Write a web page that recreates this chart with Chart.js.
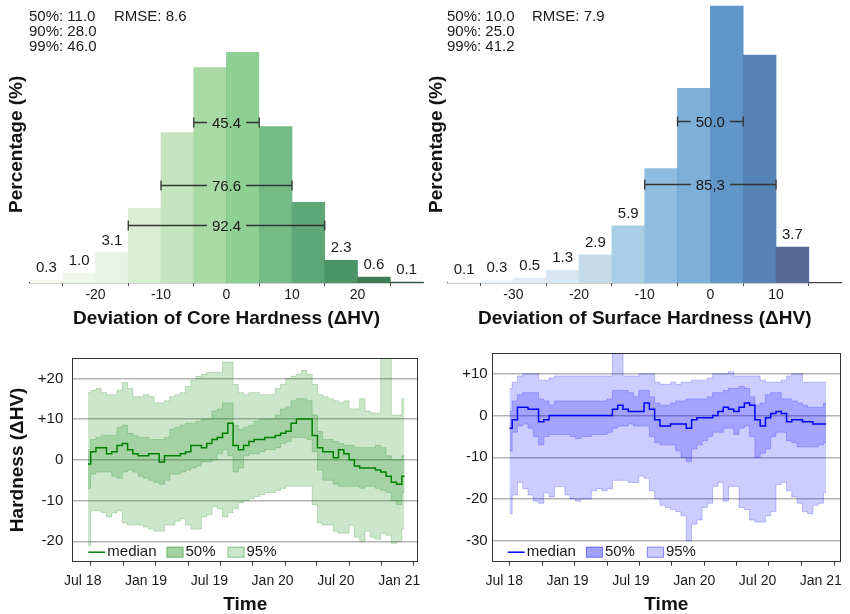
<!DOCTYPE html>
<html><head><meta charset="utf-8">
<script src="https://cdn.jsdelivr.net/npm/chart.js@4.4.1/dist/chart.umd.min.js"></script>
<style>
html,body{margin:0;padding:0;background:#fff;}
body{width:850px;height:614px;position:relative;overflow:hidden;font-family:'Liberation Sans',Arial,sans-serif;}
canvas{position:absolute;display:block;}
.stats{position:absolute;font-size:15px;line-height:15px;color:#1a1a1a;white-space:pre;}
</style></head><body>
<canvas id="c1" width="425" height="340" style="left:0;top:0"></canvas>
<canvas id="c2" width="425" height="340" style="left:425px;top:0"></canvas>
<canvas id="c3" width="425" height="274" style="left:0;top:340px"></canvas>
<canvas id="c4" width="425" height="274" style="left:425px;top:340px"></canvas>
<div class="stats" id="s1" style="left:29px;top:8px"></div>
<div class="stats" id="r1" style="left:114px;top:8px"></div>
<div class="stats" id="s2" style="left:447px;top:8px"></div>
<div class="stats" id="r2" style="left:532px;top:8px"></div>
<script>
// ---------- histogram data ----------
const coreBinCenters = [-27.5,-22.5,-17.5,-12.5,-7.5,-2.5,2.5,7.5,12.5,17.5,22.5,27.5];
const corePct = [0.3,1.0,3.1,7.6,15.3,21.9,23.5,15.9,8.2,2.3,0.6,0.1];
const coreBarColors = ['#f4faf2','#eff7ec','#e8f4e4','#d9eed3','#c4e4bd','#a9daa5','#8ecf93','#74bb86','#5ea776','#4b9468','#3f7b55','#365c46'];
const coreTicks = [-30,-20,-10,0,10,20,30];
const coreSpanLo = [-5,-10,-15];
const coreSpanHi = [5,10,15];
const coreSpanY = [16.4,10.0,5.9];
const coreSpanText = ['45.4','76.6','92.4'];
const coreStats = ['50%: 11.0','90%: 28.0','99%: 46.0'];
const coreRmse = 'RMSE: 8.6';

const surfBinCenters = [-37.5,-32.5,-27.5,-22.5,-17.5,-12.5,-7.5,-2.5,2.5,7.5,12.5];
const surfPct = [0.1,0.3,0.5,1.3,2.9,5.9,11.8,20.1,29.9,23.5,3.7];
const surfBarColors = ['#f4f8fc','#edf3fa','#e3ecf6','#d9e7f2','#c6dbea','#a9cfe6','#8ebddf','#7eb0d7','#6097c8','#5583b4','#566b95'];
const surfTicks = [-40,-30,-20,-10,0,10,20];
const surfSpanLo = [-5,-10];
const surfSpanHi = [5,10];
const surfSpanY = [16.7,10.2];
const surfSpanText = ['50.0','85,3'];
const surfStats = ['50%: 10.0','90%: 25.0','99%: 41.2'];
const surfRmse = 'RMSE: 7.9';

// ---------- time series data (months after Jul 2018) ----------
const months = [0.5,1,1.5,2,2.5,3,3.5,4,4.5,5,5.5,6,6.5,7,7.5,8,8.5,9,9.5,10,10.5,11,11.5,12,12.5,13,13.5,14,14.5,15,15.5,16,16.5,17,17.5,18,18.5,19,19.5,20,20.5,21,21.5,22,22.5,23,23.5,24,24.5,25,25.5,26,26.5,27,27.5,28,28.5,29,29.5,30,30.5];
const timeLabelMonths = [0,6,12,18,24,30];
const timeLabels = ['Jul 18','Jan 19','Jul 19','Jan 20','Jul 20','Jan 21'];
const legendLabels = ['median','50%','95%'];

const coreU95 = [16.5,17,17.5,16.5,16,16,17,19,17.5,15.5,15.5,16,15.5,14,14,14.5,15.5,16,16.5,18,19.5,20.5,21,21.5,21.5,21.5,24,24,18.5,16.5,16,16.5,16.5,16,16,16,17.5,18.5,20,20.5,21,22,21,18.5,16,15.5,15,14.5,14,14.5,12.5,12.5,15,12,11.5,11.5,27,27,11,11,15];
const coreL95 = [-21,-12.5,-12.5,-13,-14,-13,-12.5,-15.5,-16,-16,-16,-16.5,-17,-17.5,-17.5,-16,-16,-15,-14.5,-16,-17,-17,-14,-13.5,-11.5,-12,-14,-13,-12,-10.5,-10,-9.5,-9,-8.5,-8,-8,-7.5,-7,-6.5,-6.5,-6.5,-6.5,-6.5,-11,-15.5,-16,-16,-17.5,-18,-18,-16,-19,-20,-17.5,-19,-19.5,-18,-18.5,-20.5,-20,-17];
const coreU50 = [2.5,5,5.5,6,6,6,8,8.5,6.5,6,5.5,5.5,5,5,5,5.5,7.5,8,8.5,9,9,9.5,10,10,12,12.5,14,14,8.5,7.5,8,8.5,9.5,10,10,10,11,12.5,13,14.5,15,15,14.5,11,7,5,5,4.5,4,3.5,3.5,3,3,3,3,3.5,3,1,0,0,1];
const coreL50 = [-7,-3.5,-3,-3,-3,-4,-4.5,-3,-2.5,-3,-4,-4.5,-5,-5.5,-6,-5,-3.5,-3.5,-3,-2.5,-2,-1.5,-0.5,-0.5,0,1.5,2.5,1,-3,-2,1,1.5,1.5,2,2.5,2.5,3,4,4.5,5.5,5.5,5.5,5,2,-2.5,-5,-5,-6,-6.5,-6.5,-6.5,-6.5,-7,-6.5,-6.5,-7,-7.5,-8,-10,-11,-8];
const coreMed = [-1,2,3,3,1.5,2,3.5,4,2.5,1.5,1,1,1.5,1.5,-0.5,1,1,1,1.5,2,3.5,3.5,3,4,5,5.5,6.5,9,3.5,2.5,3.5,4.5,5,5,5.5,5.5,6,6.5,7,9,10,10,10,6,3,2,2,0.5,2.5,1.5,0,-1.5,-2,-2,-2,-2.5,-3,-4,-5.5,-6,-4];

const surfU95 = [6.5,8,9.5,10,10,10,8.5,8.5,9,9.5,9.5,9.5,9.5,9.5,9.5,9.5,9.5,9.5,9.5,9.5,16,16,9.5,9.5,9.5,10,10,10,8,7.5,7.5,8,7.5,8,8,8.5,8.5,8.5,9,10,10,10,10.5,9.5,9.5,9.5,9.5,9.5,8.5,8,8,8,8.5,9.5,10,10,8,8,8,8,8];
const surfL95 = [-23.5,-19,-16,-17.5,-19,-20.5,-21,-18.5,-19.5,-17,-17,-19,-20,-20.5,-20,-20,-18,-17.5,-18,-17.5,-15.5,-15.5,-15.5,-16,-16,-14.5,-15,-18,-20,-21.5,-22,-22.5,-23,-24,-30,-26,-25,-22,-21,-17,-16,-20.5,-17,-17,-22,-22.5,-25,-25.5,-25.5,-24,-23,-16.5,-16,-18,-19.5,-21,-23,-23.5,-21.5,-21,-18.5];
const surfU50 = [1,3.5,5,5.5,5.5,5.5,4,3.5,2.5,3.5,3.5,3.5,3.5,3.5,3.5,3.5,3.5,3.5,3.5,4,6,6,6,5.5,4.5,6,6,4.5,3,2.5,2.5,3,3.5,3.5,4,4,4,4,4.5,5.5,5.5,6,6.5,6.5,7,6.5,4.5,2.5,3,5,5.5,5.5,4,4,3.5,3,2.5,2,2,2,3];
const surfL50 = [-8.5,-4,-2.5,-2,-3,-5,-7,-5,-4.5,-4.5,-4.5,-4.5,-5,-5.5,-5,-5,-4.5,-4.5,-4.5,-4,-3,-2.5,-2.5,-2,-2.5,-2.5,-2.5,-5,-6.5,-7,-7,-7,-8.5,-10,-11,-8,-7,-6,-5,-4,-4,-3,-3,-4.5,-3,-2.5,-5,-10,-9,-8,-5,-4,-4,-6,-6.5,-7.5,-7.5,-7.5,-7.5,-7,-6.5];
const surfMed = [-3,-1,2,2,1.5,1.5,-1.5,-1,0,0,0,0,0,0,0,0,0,0,0,0,1.5,2.5,1.5,1,1,1,3,1.5,-1,-2.5,-2.5,-2,-2,-2,-3,-1,-0.5,-0.5,-0.5,0,1,2,1.5,1,2,3,2.5,-1,-2.5,-0.5,0.5,1,0.5,-1.5,-1,-1,-1.5,-1.5,-2,-2,-2];

const coreYTicks = [-20,-10,0,10,20];
const surfYTicks = [-30,-20,-10,0,10];
const coreMarkTicks = [0.76,3.85,6.94,10.0,13.08,16.1,19.2,22.2,25.27,28.3,31.4];
const surfMarkTicks = [0.54,3.6,6.7,9.76,12.8,15.87,18.93,22.03,25.0,28.2,31.3];

// ---------- setup ----------
const FONT = "'Liberation Sans', Arial, sans-serif";
Chart.defaults.font.family = FONT;
Chart.defaults.color = '#1a1a1a';
Chart.defaults.animation = false;

document.getElementById('s1').textContent = coreStats.join('\n');
document.getElementById('r1').textContent = coreRmse;
document.getElementById('s2').textContent = surfStats.join('\n');
document.getElementById('r2').textContent = surfRmse;

function makeHistPlugin(d) {
  return {
    id: 'histExtras',
    afterDatasetsDraw(chart) {
      const {ctx, scales: {x, y}} = chart;
      ctx.save();
      ctx.font = '15px ' + FONT;
      ctx.fillStyle = '#1a1a1a';
      ctx.textAlign = 'center';
      ctx.textBaseline = 'alphabetic';
      const lo = Math.min(...d.spanLo), hi = Math.max(...d.spanHi);
      d.centers.forEach((c, i) => {
        if (c > lo && c < hi) return;
        ctx.fillText(d.values[i].toFixed(1), x.getPixelForValue(c), y.getPixelForValue(d.values[i]) - 8);
      });
      ctx.strokeStyle = '#333';
      ctx.lineWidth = 1.3;
      ctx.textBaseline = 'middle';
      d.spanLo.forEach((l, i) => {
        const x1 = x.getPixelForValue(l), x2 = x.getPixelForValue(d.spanHi[i]);
        const py = Math.round(y.getPixelForValue(d.spanY[i])) + 0.5;
        const t = d.spanText[i];
        const w = ctx.measureText(t).width;
        const cx = (x1 + x2) / 2;
        ctx.beginPath();
        ctx.moveTo(x1, py); ctx.lineTo(cx - w / 2 - 5, py);
        ctx.moveTo(cx + w / 2 + 5, py); ctx.lineTo(x2, py);
        ctx.moveTo(x1, py - 5); ctx.lineTo(x1, py + 5);
        ctx.moveTo(x2, py - 5); ctx.lineTo(x2, py + 5);
        ctx.stroke();
        ctx.fillText(t, cx, py + 1);
      });
      ctx.restore();
    }
  };
}

function makeHist(id, d) {
  return new Chart(document.getElementById(id), {
    type: 'bar',
    data: { datasets: [{
      data: d.centers.map((c, i) => ({x: c, y: d.values[i]})),
      backgroundColor: d.colors,
      borderColor: d.edgeColor,
      borderWidth: (ctx) => ctx.dataIndex === d.edgeIndex ? {left: 1, right: 0, top: 0, bottom: 0} : 0,
      borderSkipped: false,
      barPercentage: 1,
      categoryPercentage: 1,
      clip: 0
    }]},
    options: {
      responsive: false,
      animation: false,
      layout: {padding: {top: 5.7, right: d.padRight, left: 0, bottom: 0}},
      plugins: {legend: {display: false}, tooltip: {enabled: false}},
      scales: {
        x: {
          type: 'linear', min: d.xMin, max: d.xMax, offset: false,
          afterBuildTicks: (s) => { s.ticks = d.ticks.map(v => ({value: v})); },
          afterFit: (s) => { s.height = 57; },
          grid: {display: true, drawOnChartArea: false, drawTicks: true, tickLength: 3, color: '#444', lineWidth: 1},
          border: {display: true, color: '#444', width: 1.2},
          ticks: {font: {size: 14}, color: '#1a1a1a', padding: 1, autoSkip: false, maxRotation: 0,
                  callback: (v) => (v === d.xMin || v === d.xMax) ? '' : String(v)},
          title: {display: true, text: d.xTitle, color: '#111',
                  font: {size: 19, weight: 'bold', lineHeight: 1}, padding: {top: 0, bottom: 11.5}}
        },
        y: {
          min: 0, max: d.yMax,
          afterFit: (s) => { s.width = d.yWidth; },
          grid: {display: false}, border: {display: false}, ticks: {display: false},
          title: {display: true, text: 'Percentage (%)', color: '#111',
                  font: {size: 19, weight: 'bold', lineHeight: 1}, padding: {top: d.yTitlePad, bottom: 0}}
        }
      }
    },
    plugins: [makeHistPlugin(d)]
  });
}

const framePlugin = {
  id: 'frame',
  afterDraw(chart) {
    const {ctx, chartArea: a} = chart;
    ctx.save();
    ctx.strokeStyle = '#333';
    ctx.lineWidth = 1;
    ctx.strokeRect(Math.round(a.left) + 0.5, Math.round(a.top) + 0.5, Math.round(a.right - a.left) - 1, Math.round(a.bottom - a.top) - 1);
    ctx.restore();
  }
};

function makeLegendPlugin(d) {
  return {
    id: 'bandLegend',
    afterDraw(chart) {
      const {ctx, chartArea: a} = chart;
      ctx.save();
      ctx.font = '15px ' + FONT;
      ctx.textBaseline = 'middle';
      ctx.textAlign = 'left';
      let x = a.left + 16;
      const cy = a.bottom - 9.5;
      ctx.strokeStyle = d.line; ctx.lineWidth = 1.5;
      ctx.beginPath(); ctx.moveTo(x, cy); ctx.lineTo(x + 17, cy); ctx.stroke();
      x += 19;
      ctx.fillStyle = '#1a1a1a';
      ctx.fillText(legendLabels[0], x, cy);
      x += ctx.measureText(legendLabels[0]).width + 10;
      [[d.leg50, legendLabels[1]], [d.leg95, legendLabels[2]]].forEach(([col, lab]) => {
        ctx.fillStyle = col;
        ctx.fillRect(x, cy - 5.5, 17, 11);
        ctx.strokeStyle = d.legEdge; ctx.lineWidth = 1;
        ctx.strokeRect(x + 0.5, cy - 5, 16, 10);
        ctx.fillStyle = '#1a1a1a';
        x += 19;
        ctx.fillText(lab, x, cy);
        x += ctx.measureText(lab).width + 12;
      });
      ctx.restore();
    }
  };
}

function makeSeries(id, d) {
  const pts = (arr) => months.map((m, i) => ({x: m, y: arr[i]}));
  const band = (arr, fill, bg) => ({data: pts(arr), fill: fill, backgroundColor: bg, borderColor: d.edge,
    borderWidth: 1, pointRadius: 0, stepped: 'middle', order: 1});
  return new Chart(document.getElementById(id), {
    type: 'line',
    data: { datasets: [
      band(d.u95, '+1', d.c95),
      band(d.l95, false, d.c95),
      band(d.u50, '+1', d.c50),
      band(d.l50, false, d.c50),
      {data: pts(d.med), fill: false, borderColor: d.line, borderWidth: 1.5, pointRadius: 0, stepped: 'middle', order: 0}
    ]},
    options: {
      responsive: false,
      animation: false,
      layout: {padding: {top: 11, right: d.padRight, left: 0, bottom: 0}},
      plugins: {legend: {display: false}, tooltip: {enabled: false}},
      scales: {
        x: {
          type: 'linear', position: 'bottom', min: d.xMin, max: d.xMax,
          afterBuildTicks: (s) => { s.ticks = d.markTicks.map(v => ({value: v})); },
          afterFit: (s) => { s.height = 4; },
          grid: {display: true, drawOnChartArea: false, drawTicks: true, tickLength: 4, color: '#333'},
          border: {display: false},
          ticks: {display: false}
        },
        xl: {
          type: 'linear', position: 'bottom', min: d.xMin, max: d.xMax,
          afterBuildTicks: (s) => { s.ticks = timeLabelMonths.map(v => ({value: v})); },
          afterFit: (s) => { s.height = 48.3; },
          grid: {display: false}, border: {display: false},
          ticks: {font: {size: 14}, color: '#1a1a1a', padding: -1, autoSkip: false, maxRotation: 0,
                  callback: (v, i) => timeLabels[i]},
          title: {display: true, text: 'Time', color: '#111',
                  font: {size: 19, weight: 'bold', lineHeight: 1}, padding: {top: 0, bottom: 0}}
        },
        y: {
          min: d.yMin, max: d.yMax,
          afterBuildTicks: (s) => { s.ticks = d.yTicks.map(v => ({value: v})); },
          afterFit: (s) => { s.width = d.yWidth; },
          grid: {color: '#b4b4b4', lineWidth: 1.5, drawTicks: false},
          border: {display: false},
          ticks: {font: {size: 15}, color: '#1a1a1a', padding: d.yPad,
                  callback: (v) => v > 0 ? '+' + v : String(v)},
          title: d.yTitle ? {display: true, text: d.yTitle, color: '#111',
                  font: {size: 19, weight: 'bold', lineHeight: 1}, padding: {top: 8.5, bottom: 0}} : {display: false}
        }
      }
    },
    plugins: [framePlugin, makeLegendPlugin(d)]
  });
}

makeHist('c1', {
  centers: coreBinCenters, values: corePct, colors: coreBarColors, ticks: coreTicks,
  spanLo: coreSpanLo, spanHi: coreSpanHi, spanY: coreSpanY, spanText: coreSpanText,
  xMin: -30, xMax: 30, yMax: 28.2, yWidth: 30, padRight: 2, yTitlePad: 7.5,
  edgeIndex: 6, edgeColor: '#6fb981',
  xTitle: 'Deviation of Core Hardness (ΔHV)'
});
makeHist('c2', {
  centers: surfBinCenters, values: surfPct, colors: surfBarColors, ticks: surfTicks,
  spanLo: surfSpanLo, spanHi: surfSpanHi, spanY: surfSpanY, spanText: surfSpanText,
  xMin: -40, xMax: 20, yMax: 28.6, yWidth: 22.7, padRight: 8.3, yTitlePad: 2.2,
  edgeIndex: 7, edgeColor: '#5a9bd0',
  xTitle: 'Deviation of Surface Hardness (ΔHV)'
});
makeSeries('c3', {
  u95: coreU95, l95: coreL95, u50: coreU50, l50: coreL50, med: coreMed,
  c95: 'rgba(0,128,0,0.2)', c50: 'rgba(0,128,0,0.2)', edge: 'rgba(0,128,0,0.22)', line: '#008000',
  leg50: '#a3d2a3', leg95: '#cce6cc', legEdge: 'rgba(0,128,0,0.35)',
  xMin: -0.99, xMax: 31.81, markTicks: coreMarkTicks,
  yMin: -25, yMax: 25, yTicks: coreYTicks, yWidth: 72.3, yPad: 9, padRight: 6.7,
  yTitle: 'Hardness (ΔHV)'
});
makeSeries('c4', {
  u95: surfU95, l95: surfL95, u50: surfU50, l50: surfL50, med: surfMed,
  c95: 'rgba(0,0,255,0.2)', c50: 'rgba(0,0,255,0.2)', edge: 'rgba(0,0,255,0.22)', line: '#0000ff',
  leg50: '#a3a3ff', leg95: '#ccccff', legEdge: 'rgba(0,0,255,0.35)',
  xMin: -1.19, xMax: 31.91, markTicks: surfMarkTicks,
  yMin: -35, yMax: 15, yTicks: surfYTicks, yWidth: 66.7, yPad: 4, padRight: 9,
  yTitle: null
});
</script>
</body></html>
